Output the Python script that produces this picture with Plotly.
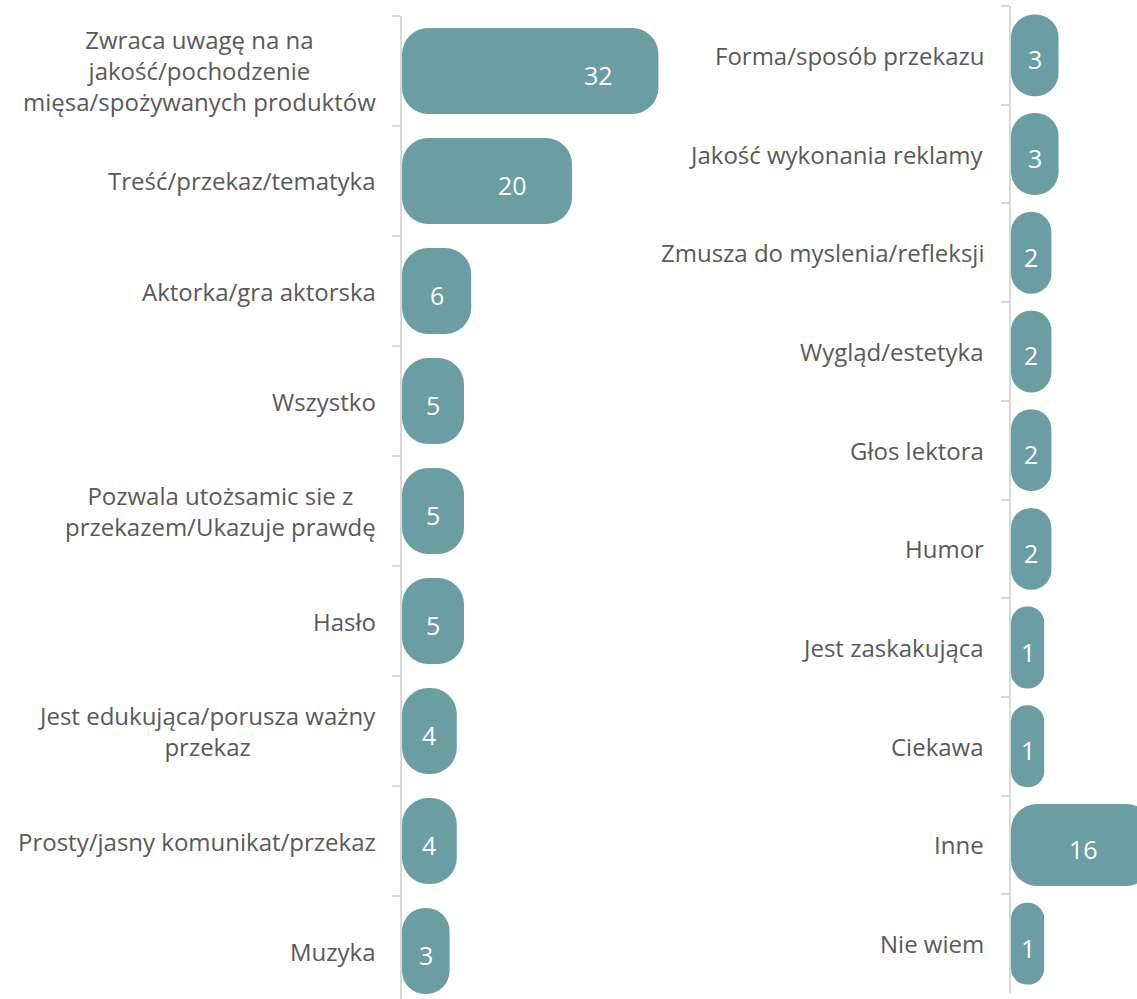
import plotly.graph_objects as go

# ---- data ----
left_labels = [
    "Zwraca uwagę na na<br>jakość/pochodzenie<br>mięsa/spożywanych produktów",
    "Treść/przekaz/tematyka",
    "Aktorka/gra aktorska",
    "Wszystko",
    "Pozwala utożsamic sie z<br>przekazem/Ukazuje prawdę",
    "Hasło",
    "Jest edukująca/porusza ważny<br>przekaz",
    "Prosty/jasny komunikat/przekaz",
    "Muzyka",
]
left_values = [32, 20, 6, 5, 5, 5, 4, 4, 3]

right_labels = [
    "Forma/sposób przekazu",
    "Jakość wykonania reklamy",
    "Zmusza do myslenia/refleksji",
    "Wygląd/estetyka",
    "Głos lektora",
    "Humor",
    "Jest zaskakująca",
    "Ciekawa",
    "Inne",
    "Nie wiem",
]
right_values = [3, 3, 2, 2, 2, 2, 1, 1, 16, 1]

# ---- style / layout constants ----
W, H = 1137, 999
PX_PER_UNIT = 7.2
CAP = 26 / PX_PER_UNIT          # rounded end cap drawn before the zero line
BAR_COLOR = "#6B9EA2"
TEXT_COLOR = "#595959"
AXIS_COLOR = "#D9D9D9"
FONT = "Open Sans"
CAT_SIZE = 24
NUM_SIZE = 25

L_AXIS_PX, L_END_PX = 402, 690
R_AXIS_PX, R_END_PX = 1011, 1137


def label_x(v, inset):
    return max((v - CAP) / 2, v - inset)


fig = go.Figure()

fig.add_trace(go.Bar(
    y=left_labels, x=[v + CAP for v in left_values], base=-CAP, orientation="h",
    marker=dict(color=BAR_COLOR, cornerradius=26, line=dict(width=0)),
    width=0.78, xaxis="x", yaxis="y", hoverinfo="skip", showlegend=False,
))
fig.add_trace(go.Bar(
    y=right_labels, x=[v + CAP for v in right_values], base=-CAP, orientation="h",
    marker=dict(color=BAR_COLOR, cornerradius=26, line=dict(width=0)),
    width=0.83, xaxis="x2", yaxis="y2", hoverinfo="skip", showlegend=False,
))

annotations = []
# value labels
for lab, v in zip(left_labels, left_values):
    annotations.append(dict(
        text=str(v), x=label_x(v, 8.3), xref="x", y=lab, yref="y",
        xanchor="center", yshift=-4, showarrow=False,
        font=dict(size=NUM_SIZE, color="white", family=FONT),
    ))
for lab, v in zip(right_labels, right_values):
    annotations.append(dict(
        text=str(v), x=label_x(v, 9.6), xref="x2", y=lab, yref="y2",
        xanchor="center", yshift=-4, showarrow=False,
        font=dict(size=NUM_SIZE, color="white", family=FONT),
    ))
# category labels
for lab in left_labels:
    annotations.append(dict(
        text=lab, x=(L_AXIS_PX - 24) / W, xref="paper", y=lab, yref="y",
        xanchor="right", align="center", showarrow=False,
        font=dict(size=CAT_SIZE, color=TEXT_COLOR, family=FONT),
    ))
for lab in right_labels:
    annotations.append(dict(
        text=lab, x=(R_AXIS_PX - 25) / W, xref="paper", y=lab, yref="y2",
        xanchor="right", align="center", showarrow=False,
        font=dict(size=CAT_SIZE, color=TEXT_COLOR, family=FONT),
    ))

yaxis_common = dict(
    type="category", showline=True, linecolor=AXIS_COLOR, linewidth=2,
    ticks="outside", tickson="boundaries", ticklen=8, tickcolor=AXIS_COLOR,
    tickwidth=2, showticklabels=False, showgrid=False, zeroline=False,
)
xaxis_common = dict(
    showline=False, showticklabels=False, ticks="", showgrid=False, zeroline=False,
)

l_top = 16
l_span = (H - l_top) / 110.0

fig.update_layout(
    width=W, height=H,
    margin=dict(l=0, r=0, t=0, b=0),
    paper_bgcolor="white", plot_bgcolor="white",
    font=dict(family=FONT, color=TEXT_COLOR),
    xaxis=dict(domain=[L_AXIS_PX / W, L_END_PX / W],
               range=[-CAP, (L_END_PX - L_AXIS_PX) / PX_PER_UNIT - CAP],
               anchor="y", **xaxis_common),
    yaxis=dict(domain=[0, 1 - l_top / H],
               range=[-0.5 + l_span, -0.5], anchor="x", **yaxis_common),
    xaxis2=dict(domain=[R_AXIS_PX / W, 1],
                range=[-CAP, (R_END_PX - R_AXIS_PX) / PX_PER_UNIT - CAP],
                anchor="y2", **xaxis_common),
    yaxis2=dict(domain=[6 / H, 1 - 6 / H],
                range=[len(right_labels) - 0.5, -0.5], anchor="x2", **yaxis_common),
    annotations=annotations,
    bargap=0.2,
)

fig.write_html("out.html", config={"displayModeBar": False},
               post_script="document.body.style.margin='0';")
